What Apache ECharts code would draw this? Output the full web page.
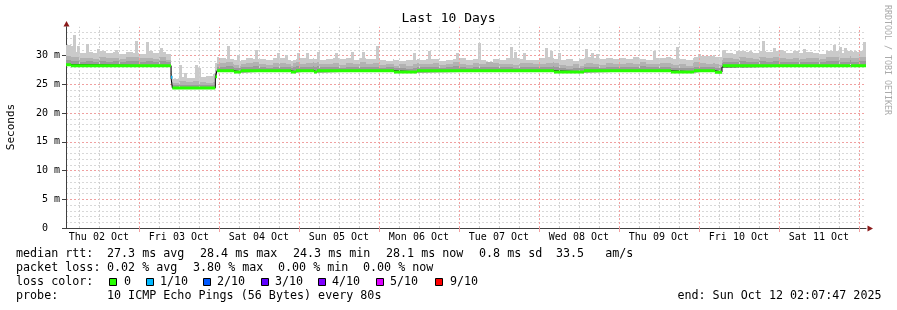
<!DOCTYPE html>
<html><head><meta charset="utf-8">
<script src="https://cdn.jsdelivr.net/npm/echarts@6/dist/echarts.min.js"></script>
<style>html,body{margin:0;padding:0;background:#fff}#c{width:897px;height:310px}</style>
</head><body><div id="c"></div>
<script>
// ---------------- data ----------------
const chartTitle = 'Last 10 Days';
const endTime = '2025-10-12T02:07:47Z';
const endLabel = 'end: Sun Oct 12 02:07:47 2025';
const spanHours = 240;
const binHours = 2;
const yMax = 35;
const yInterval = 5;

// median rtt (ms): change points, hours since graph start, with loss level index
const medianTimes  = [0,    1.5,  31.5, 31.9,  44.8, 45.3,  50.4,  52.5,  67.5,  69.0,  74.4,  75.3,  98.4,  105.3, 146.4, 155.4, 181.5, 188.4, 194.7, 196.8, 197.0, 235.3, 235.5];
const medianValues = [28.4, 28.2, 26.2, 24.35, 26.3, 27.35, 27.15, 27.35, 27.15, 27.35, 27.15, 27.35, 27.15, 27.35, 27.15, 27.35, 27.15, 27.35, 27.1,  28.0,  28.2,  28.5,  28.2];
const medianLoss   = [0,    0,    1,    0,     0,    0,     0,     0,     0,     0,     0,     0,     0,     0,     0,     0,     0,     0,     0,     2,     0,     2,     0];

// smoke, ms above the median, per 2-hour bin (120 bins)
const smokeDark = [
  0.8,0.9,0.7,0.8,0.7,0.8,0.7,0.8,0.7,0.8,0.9,0.7,0.8,0.7,0.8,0.6,
  0.5,0.6,0.5,0.6,0.5,0.5,0.6,
  0.7,0.8,0.6,0.6,0.7,0.8,0.6,0.5,0.7,0.7,
  0.6,0.8,0.6,0.7,0.8,0.6,0.6,0.7,0.5,0.7,
  0.6,0.7,0.6,0.7,0.5,0.6,0.6,0.7,0.5,0.7,
  0.6,0.6,0.7,0.5,0.6,0.8,0.6,0.5,0.7,0.6,
  0.7,0.7,0.6,0.6,0.5,0.7,0.7,0.6,0.6,0.7,
  0.8,0.6,0.5,0.7,0.6,0.7,0.6,0.5,0.7,0.6,
  0.6,0.7,0.6,0.8,0.6,0.6,0.7,0.7,0.6,0.7,
  0.6,0.7,0.7,0.6,0.7,0.7,
  0.7,0.6,0.8,0.7,0.6,0.8,0.7,0.8,0.7,0.6,0.7,0.6,0.7,0.7,0.6,0.8,0.8,0.7,0.7,0.7,0.8
];
const smokeMid = [
  1.5,1.6,1.3,1.4,1.2,1.5,1.3,1.4,1.2,1.5,1.6,1.3,1.4,1.2,1.5,1.1,
  0.9,1.2,1.0,1.3,1.0,0.9,1.1,
  1.4,1.6,1.2,1.1,1.3,1.5,1.2,1.0,1.4,1.3,
  1.1,1.5,1.2,1.3,1.6,1.1,1.2,1.4,1.0,1.3,
  1.2,1.5,1.1,1.3,1.0,1.2,1.1,1.3,1.0,1.4,
  1.2,1.1,1.3,1.0,1.2,1.6,1.1,1.0,1.3,1.2,
  1.5,1.3,1.2,1.1,1.0,1.3,1.4,1.2,1.1,1.3,
  1.5,1.2,1.0,1.4,1.1,1.3,1.2,1.0,1.3,1.1,
  1.2,1.4,1.1,1.5,1.2,1.1,1.3,1.4,1.2,1.3,
  1.1,1.5,1.3,1.2,1.4,1.3,
  1.3,1.2,1.5,1.4,1.2,1.6,1.3,1.5,1.4,1.2,1.4,1.2,1.3,1.4,1.2,1.6,1.5,1.3,1.4,1.3,1.5
];
// general top of the smoke, ms above the median, per 2-hour bin
const smokeMax = [
  3.4,2.4,2.2,2.4,2.2,2.5,2.2,2.4,2.1,2.4,2.3,2.1,2.5,2.3,2.4,2.1,
  1.6,1.9,1.7,1.8,1.9,2.0,2.4,
  2.3,2.1,2.0,1.9,2.2,2.0,2.1,1.8,2.3,2.2,
  1.9,2.1,2.2,2.0,2.3,1.9,2.1,2.2,2.0,2.3,
  1.8,2.2,2.0,2.1,1.8,1.7,2.0,1.9,2.1,2.0,
  1.8,2.1,2.0,1.7,1.9,2.1,2.2,1.8,2.1,1.9,
  1.6,2.0,1.9,2.2,2.3,2.1,1.9,1.8,2.2,2.4,
  2.3,2.1,2.2,1.9,2.2,2.4,2.3,2.0,2.3,2.0,
  2.2,2.0,2.4,2.1,1.9,2.3,2.2,2.4,2.3,2.2,
  2.0,2.4,2.6,2.5,2.7,2.7,
  2.3,2.1,2.5,2.4,2.2,2.6,2.4,2.6,2.5,2.2,2.5,2.2,2.4,2.3,2.1,2.6,2.5,2.3,2.5,2.4,2.6
];
// narrow smoke spikes: hours since start, max rtt (ms)
const spikeTimes  = [2.4, 3.6, 6.3, 9.6, 15.0, 21.0, 24.3, 28.5, 34.4, 35.7, 39.0, 39.9, 48.6, 51.6, 57.0, 63.6, 66.0, 69.6, 72.3, 75.6, 81.0, 85.8, 89.1, 93.3, 104.4, 108.9, 117.3, 123.9, 133.5, 134.7, 137.4, 144.0, 145.5, 147.9, 156.0, 157.8, 159.3, 176.4, 183.3, 189.9, 201.3, 205.2, 209.1, 212.4, 214.5, 221.4, 228.6, 230.4, 232.2, 233.7, 236.7, 239.6];
const spikeValues = [33.6, 31.7, 32.0, 31.1, 31.0, 32.5, 32.3, 31.3, 28.3, 27.0, 28.3, 27.9, 31.6, 30.1, 31.0, 30.4, 30.1, 30.4, 30.5, 30.6, 30.4, 30.6, 30.6, 31.6, 30.4, 30.8, 30.4, 32.2, 31.5, 30.6, 30.4, 31.3, 30.8, 30.4, 31.1, 30.5, 30.3, 30.8, 31.5, 30.3, 30.8, 30.8, 32.5, 31.3, 31.0, 31.1, 30.8, 31.8, 31.5, 31.3, 30.8, 32.3];

const lossLabels = ['0', '1/10', '2/10', '3/10', '4/10', '5/10', '9/10'];
const lossColors = ['#26ff00', '#00b8ff', '#0059ff', '#5e00ff', '#7e00ff', '#dd00ff', '#ff0000'];
const rttStats  = ['27.3 ms avg', '28.4 ms max', '24.3 ms min', '28.1 ms now', '0.8 ms sd', '33.5   am/s'];
const lossStats = ['0.02 % avg', '3.80 % max', '0.00 % min', '0.00 % now'];
const probeText = '10 ICMP Echo Pings (56 Bytes) every 80s';
const dayNames = ['Sun','Mon','Tue','Wed','Thu','Fri','Sat'];
const monNames = ['Jan','Feb','Mar','Apr','May','Jun','Jul','Aug','Sep','Oct','Nov','Dec'];

// ---------------- build ----------------
const HOUR = 3600e3, DAY = 24*HOUR;
const startMs = Date.parse(endTime) - spanHours*HOUR;
const firstMid = (Math.ceil(startMs/DAY)*DAY - startMs)/HOUR;
const dayLines = [], sixLines = [], noonVals = [];
for (let j = 0; ; j++) { const h = firstMid - 18 + 6*j; if (h > spanHours) break; if (h < 0) continue; if (j % 4 === 3) dayLines.push(h); else sixLines.push(h); }
for (let j = 0; ; j++) { const h = firstMid - 12 + 24*j; if (h > spanHours) break; if (h >= 0) noonVals.push(h); }
const pad = n => (n < 10 ? '0' : '') + n;
const fmtDay = v => { const d = new Date(startMs + v*HOUR); return dayNames[d.getUTCDay()] + ' ' + pad(d.getUTCDate()) + ' ' + monNames[d.getUTCMonth()]; };

function medianAt(t) { let v = medianValues[0]; for (let i = 0; i < medianTimes.length; i++) if (medianTimes[i] <= t + 1e-9) v = medianValues[i]; return v; }
const xsAll = [spanHours];
for (let k = 0; k < smokeMax.length; k++) xsAll.push(k*binHours);
medianTimes.forEach(t => xsAll.push(t));
const xs = Array.from(new Set(xsAll.map(v => +v.toFixed(4)))).sort((a, b) => a - b);
// smoke bands as [t0, t1, low, high]
const darkBand = [], midBand = [], lightBand = [];
for (let i = 0; i + 1 < xs.length; i++) {
  const t0 = xs[i], t1 = xs[i+1];
  const b = Math.min(Math.floor(t0/binHours + 1e-9), smokeMax.length - 1);
  const m = medianAt(t0);
  darkBand.push([t0, t1, m, m + smokeDark[b]]);
  midBand.push([t0, t1, m + smokeDark[b], m + smokeMid[b]]);
  lightBand.push([t0, t1, m + smokeMid[b], m + smokeMax[b]]);
}
const spikeHalf = 0.45;
const spikeBand = spikeTimes.map((t, i) => [Math.max(0, t - spikeHalf), Math.min(spanHours, t + spikeHalf), medianAt(t), spikeValues[i]]);
const segs = medianTimes.map((t, i) => ({ t0: t, t1: i + 1 < medianTimes.length ? medianTimes[i+1] : spanHours, v: medianValues[i], loss: medianLoss[i] }));
const blackData = segs.map(s => [s.t0, s.v]).concat([[spanHours, segs[segs.length-1].v]]);
function lossLine(level) { const d = []; segs.forEach(s => { if (s.loss === level) d.push([s.t0, s.v], [s.t1, s.v], [s.t1, null]); }); return d; }

const MONO = '"DejaVu Sans Mono", monospace';
function bandSeries(name, data, color, z) {
  return {
    name, type: 'custom', data, z, silent: true, clip: true,
    encode: { x: [0, 1], y: [2, 3] },
    renderItem: (params, api) => {
      const a = api.coord([api.value(0), api.value(3)]);
      const b = api.coord([api.value(1), api.value(2)]);
      const x0 = Math.round(a[0]), x1 = Math.max(Math.round(b[0]), x0 + 1);
      const y0 = Math.round(a[1]), y1 = Math.round(b[1]);
      if (y1 <= y0) return null;
      return { type: 'rect', shape: { x: x0, y: y0, width: x1 - x0, height: y1 - y0 }, style: { fill: color } };
    }
  };
}
const series = [
  bandSeries('light', lightBand, '#cacaca', 2),
  bandSeries('spikes', spikeBand, '#cacaca', 2),
  bandSeries('mid', midBand, '#b2b2b2', 2),
  bandSeries('dark', darkBand, '#9a9a9a', 2),
  { name: 'median', type: 'line', step: 'end', data: blackData, symbol: 'none', z: 4, lineStyle: { color: '#000', width: 1 }, silent: true }
];
for (let lvl = 0; lvl < lossColors.length; lvl++) {
  if (!medianLoss.includes(lvl)) continue;
  series.push({ name: 'loss' + lvl, type: 'line', data: lossLine(lvl), symbol: 'none', z: 5, connectNulls: false,
    lineStyle: { color: lossColors[lvl], width: 3, cap: 'butt' }, silent: true });
}

// legend graphics
const LF = '11.7px ' + MONO;
const txt = (x, y, text) => ({ type: 'text', x, y, silent: true,
  style: { text, font: LF, fill: '#000', textAlign: 'left', textVerticalAlign: 'middle', align: 'left', verticalAlign: 'middle' } });
const rowY = [254, 268, 282, 296];
const rttX = [107, 200, 293, 386, 479, 556];
const lossX = [107, 193, 278, 363];
const sqX = [109, 146, 203, 261, 318, 376, 435];
const lblX = [124, 160, 217, 275, 332, 390, 450];
const graphics = [
  { type: 'text', x: 448.5, y: 19, silent: true, style: { text: chartTitle, font: '13px ' + MONO, fill: '#000', textAlign: 'center', textVerticalAlign: 'middle', align: 'center', verticalAlign: 'middle' } },
  { type: 'text', x: 11, y: 127, rotation: Math.PI/2, silent: true, style: { text: 'Seconds', font: '11px ' + MONO, fill: '#000', textAlign: 'center', textVerticalAlign: 'middle', align: 'center', verticalAlign: 'middle' } },
  { type: 'text', x: 887, y: 60, rotation: -Math.PI/2, silent: true, style: { text: 'RRDTOOL / TOBI OETIKER', font: '8.3px ' + MONO, fill: '#aaaaaa', textAlign: 'center', textVerticalAlign: 'middle', align: 'center', verticalAlign: 'middle' } },
  { type: 'polygon', silent: true, shape: { points: [[63.5, 26.5], [69.5, 26.5], [66.5, 21]] }, style: { fill: '#8b1a1a' } },
  { type: 'polygon', silent: true, shape: { points: [[867.5, 225.5], [867.5, 231.5], [873, 228.5]] }, style: { fill: '#8b1a1a' } },
  txt(16, rowY[0], 'median rtt:'),
  txt(16, rowY[1], 'packet loss:'),
  txt(16, rowY[2], 'loss color:'),
  txt(16, rowY[3], 'probe:'),
  txt(107, rowY[3], probeText),
  { type: 'text', x: 881.5, y: rowY[3], silent: true, style: { text: endLabel, font: LF, fill: '#000', textAlign: 'right', textVerticalAlign: 'middle', align: 'right', verticalAlign: 'middle' } }
];
rttStats.forEach((s, i) => graphics.push(txt(rttX[i], rowY[0], s)));
lossStats.forEach((s, i) => graphics.push(txt(lossX[i], rowY[1], s)));
lossLabels.forEach((s, i) => {
  graphics.push({ type: 'rect', silent: true, shape: { x: sqX[i] + 0.5, y: 278.5, width: 7, height: 7 }, style: { fill: lossColors[i], stroke: '#000', lineWidth: 1 } });
  graphics.push(txt(lblX[i], rowY[2], s));
});

// vertical grid as mark lines (drawn over smoke, like rrdtool)
const vGrid = sixLines.map(h => ({ xAxis: h, lineStyle: { color: '#d0d0d0', type: [2, 2], width: 1 } }))
  .concat(dayLines.map(h => ({ xAxis: h, lineStyle: { color: '#f0a0a0', type: [2, 2], width: 1 } })));
series.push({ name: 'vgrid', type: 'line', data: blackData, symbol: 'none', z: 3, silent: true,
  lineStyle: { opacity: 0 },
  markLine: { silent: true, symbol: ['none', 'none'], label: { show: false }, animation: false, data: vGrid } });

const chart = echarts.init(document.getElementById('c'), null, { renderer: 'canvas' });
chart.setOption({
  animation: false,
  backgroundColor: '#ffffff',
  grid: { left: 66, right: 31, top: 26.75, bottom: 82, containLabel: false },
  xAxis: { type: 'value', min: 0, max: spanHours,
    axisLine: { show: true, lineStyle: { color: '#404040', width: 1 } },
    axisTick: { show: true, customValues: dayLines, length: 4, lineStyle: { color: '#f0a0a0' } },
    splitLine: { show: false },
    axisLabel: { show: true, customValues: noonVals, formatter: v => fmtDay(v), fontFamily: MONO, fontSize: 10, color: '#000', margin: 4 } },
  yAxis: { type: 'value', min: 0, max: yMax, interval: yInterval,
    axisLine: { show: true, lineStyle: { color: '#404040', width: 1 } },
    axisTick: { show: true, length: 4, lineStyle: { color: '#404040' } },
    axisLabel: { formatter: v => (v === 0 ? '0  ' : v + ' m'), showMaxLabel: false, fontFamily: MONO, fontSize: 10, color: '#000', margin: 6 },
    splitLine: { show: true, showMinLine: false, showMaxLine: false, lineStyle: { color: '#f0a0a0', width: 1, type: [2, 2] } },
    minorTick: { show: false, splitNumber: 5 },
    minorSplitLine: { show: true, lineStyle: { color: '#d8d8d8', width: 1, type: [2, 2] } } },
  series,
  graphic: { elements: graphics }
});
</script>
</body></html>
